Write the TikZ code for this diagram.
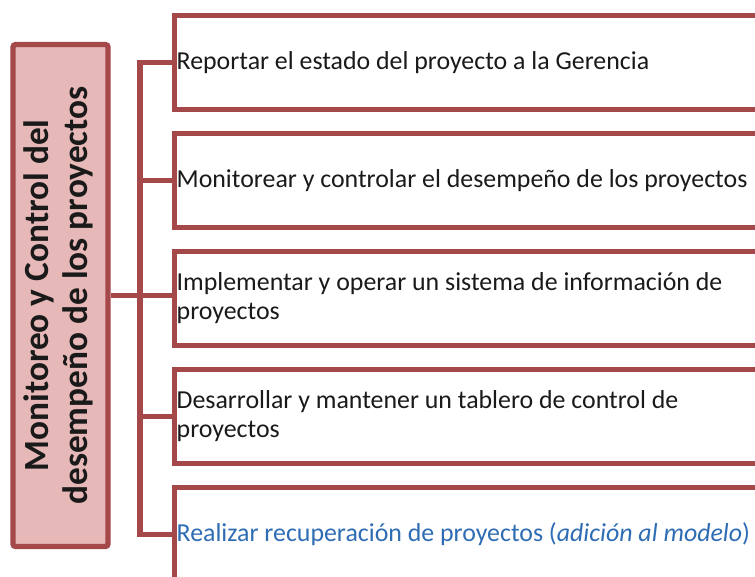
\documentclass[tikz,border=0pt]{standalone}
\usepackage{fontspec}
\setmainfont{Carlito}
\definecolor{boxred}{HTML}{A5484A}
\definecolor{softpink}{HTML}{E6B9B8}
\definecolor{itemtext}{HTML}{1A1A1A}
\definecolor{addblue}{HTML}{2E6DB4}

\begin{document}
\begin{tikzpicture}[
            x=0.75pt, y=-0.75pt,
            mainbox/.style={rectangle, draw=boxred, fill=softpink, line width=4pt,
                            rounded corners=2pt, minimum width=71.25pt, minimum height=376.5pt,
                            inner sep=0pt, text=itemtext,
                            font=\fontsize{26.5}{29}\selectfont\bfseries},
            itembox/.style={rectangle, draw=boxred, fill=white, line width=4pt, anchor=north west,
                            minimum width=480pt, minimum height=70.5pt, text width=477pt,
                            inner xsep=1.5pt, align=flush left, text=itemtext,
                            font=\fontsize{19.4}{21.5}\selectfont},
            link/.style={draw=boxred, line width=4pt, line join=miter}
        ]
            \clip (0,0) rectangle (755,576);
            \fill[white] (0,0) rectangle (755,576);

            \node[mainbox] (main) at (60.5,295.5) {\rotatebox{90}{\begin{tabular}{@{}c@{}}Monitoreo y Control del\\desempeño de los proyectos\end{tabular}}};

            \node[itembox] (item1) at (172,12.5) {Reportar el estado del proyecto a la Gerencia};
            \node[itembox] (item2) at (172,130.5) {Monitorear y controlar el desempeño de los proyectos};
            \node[itembox] (item3) at (172,248.5) {Implementar y operar un sistema de información de\\proyectos};
            \node[itembox] (item4) at (172,366.5) {Desarrollar y mantener un tablero de control de\\proyectos};
            \node[itembox, text=addblue] (item5) at (172,484.5) {Realizar recuperación de proyectos (\textit{adición al modelo})};

            % Tree connectors
            \coordinate (hub) at (140,295.5);
            \draw[link] (main.east) -- (main.east -| item3.west);
            \draw[link] (item1.west) -| (hub) |- (item5.west);
            \draw[link] (hub |- item2.west) -- (item2.west);
            \draw[link] (hub |- item4.west) -- (item4.west);
        \end{tikzpicture}
\end{document}
